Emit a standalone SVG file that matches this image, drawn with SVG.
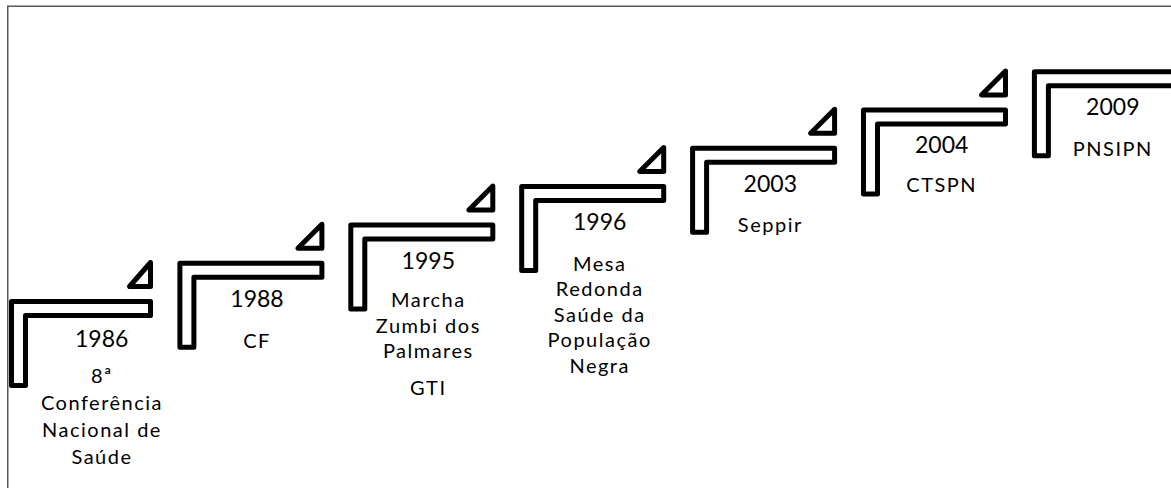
<svg xmlns="http://www.w3.org/2000/svg" width="1171" height="488" viewBox="0 0 1171 488">
<style>
.step{fill:#fff;stroke:#000;stroke-width:5;stroke-linejoin:round}
.yr{font-family:Lato,"Liberation Sans",sans-serif;font-size:23px;fill:#000;text-anchor:middle}
.ds{font-family:Lato,"Liberation Sans",sans-serif;font-size:20px;fill:#000;text-anchor:middle;letter-spacing:1.5px}
</style>
<rect width="1171" height="488" fill="#fff"/>
<path d="M7.75,488 V6.25 H1171" fill="none" stroke="#595959" stroke-width="1.5"/>
<g id="step-1986">
<path class="step" d="M11.5,301.5 H150.5 V315.5 H25.5 V385.5 H11.5 Z"/>
<path class="step" d="M129.5,286.5 H150.5 V262.5 Z"/>
<text class="yr" x="101.7" y="346.5">1986</text>
<text class="ds" x="102" y="383">8ª</text>
<text class="ds" x="102" y="409.5">Conferência</text>
<text class="ds" x="102" y="437">Nacional de</text>
<text class="ds" x="102" y="464">Saúde</text>
</g>
<g id="step-1988">
<path class="step" d="M179.9,263.2 H321.9 V277.2 H193.9 V347.2 H179.9 Z"/>
<path class="step" d="M297.9,248.2 H321.9 V224.2 Z"/>
<text class="yr" x="257" y="307">1988</text>
<text class="ds" x="257" y="348">CF</text>
</g>
<g id="step-1995">
<path class="step" d="M350.8,224.9 H492.8 V238.9 H364.8 V308.9 H350.8 Z"/>
<path class="step" d="M468.8,209.9 H492.8 V185.9 Z"/>
<text class="yr" x="428.3" y="268.5">1995</text>
<text class="ds" x="428.3" y="307.3">Marcha</text>
<text class="ds" x="428.3" y="332.7">Zumbi dos</text>
<text class="ds" x="428.3" y="357.7">Palmares</text>
<text class="ds" x="428.3" y="395">GTI</text>
</g>
<g id="step-1996">
<path class="step" d="M521.7,186.6 H663.7 V200.6 H535.7 V270.6 H521.7 Z"/>
<path class="step" d="M639.7,171.6 H663.7 V147.6 Z"/>
<text class="yr" x="599.7" y="230">1996</text>
<text class="ds" x="599.7" y="270.7">Mesa</text>
<text class="ds" x="599.7" y="296">Redonda</text>
<text class="ds" x="599.7" y="322">Saúde da</text>
<text class="ds" x="599.7" y="347">População</text>
<text class="ds" x="599.7" y="373">Negra</text>
</g>
<g id="step-2003">
<path class="step" d="M692.6,148.3 H834.6 V162.3 H706.6 V232.3 H692.6 Z"/>
<path class="step" d="M810.6,133.3 H834.6 V109.3 Z"/>
<text class="yr" x="770.3" y="191.7">2003</text>
<text class="ds" x="770.3" y="231.7">Seppir</text>
</g>
<g id="step-2004">
<path class="step" d="M863.5,110 H1005.5 V124 H877.5 V194 H863.5 Z"/>
<path class="step" d="M981.5,95 H1005.5 V71 Z"/>
<text class="yr" x="941.7" y="152.7">2004</text>
<text class="ds" x="941.7" y="191.7">CTSPN</text>
</g>
<g id="step-2009">
<path class="step" d="M1034.4,71.7 H1176.4 V85.7 H1048.4 V155.7 H1034.4 Z"/>
<text class="yr" x="1112.8" y="115">2009</text>
<text class="ds" x="1112.8" y="156">PNSIPN</text>
</g>
</svg>
